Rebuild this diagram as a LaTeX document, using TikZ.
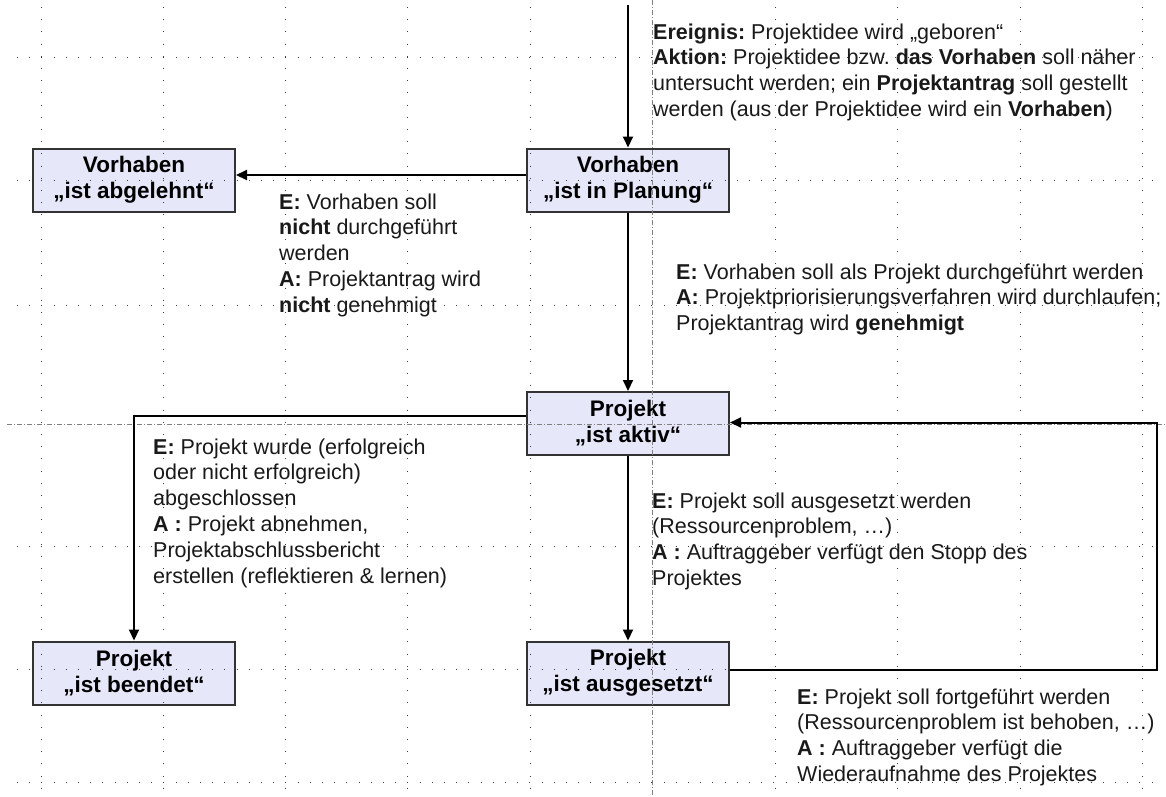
\documentclass[tikz,border=0pt]{standalone}
\usepackage{fontspec}
\setmainfont{Liberation Sans}
\usetikzlibrary{arrows.meta}
\definecolor{zustandfill}{RGB}{230,232,250}
\definecolor{zustandrand}{RGB}{51,51,51}
\definecolor{rasterfarbe}{RGB}{60,60,60}
\frenchspacing

\begin{document}
\begin{tikzpicture}[
x=1pt, y=-1pt,
every node/.style={font=\fontsize{21.5}{25.8}\selectfont},
zustand/.style={rectangle, draw=zustandrand, fill=zustandfill, line width=2pt, minimum width=202pt, minimum height=63pt, align=center, inner sep=0pt, font=\fontsize{22.5}{26}\selectfont\bfseries},
erklaerung/.style={anchor=base west, inner sep=0pt, align=left, text=black!90},
uebergang/.style={line width=2pt, -{Triangle[length=11pt, width=10pt]}},
raster/.style={rasterfarbe, line width=1pt, dash pattern=on 1pt off 11.2pt},
hilfslinie/.style={gray, line width=0.8pt, dash pattern=on 5pt off 2pt on 1pt off 2pt},
]
\useasboundingbox (0,0) rectangle (1166,796);

\node[zustand] (abgelehnt) at (134,180) {Vorhaben\\„ist abgelehnt“};
\node[zustand] (planung) at (628,180) {Vorhaben\\„ist in Planung“};
\node[zustand] (aktiv) at (628,423.5) {Projekt\\„ist aktiv“};
\node[zustand] (beendet) at (134,673) {Projekt\\„ist beendet“};
\node[zustand] (ausgesetzt) at (628,673) {Projekt\\„ist ausgesetzt“};

\node[erklaerung] (ereignis) at (653,116.4) {\textbf{Ereignis:} Projektidee wird „geboren“\\
	\textbf{Aktion:} Projektidee bzw. \textbf{das Vorhaben} soll näher\\
	untersucht werden; ein \textbf{Projektantrag} soll gestellt\\
	werden (aus der Projektidee wird ein \textbf{Vorhaben})};
\node[erklaerung] (ablehnen) at (279,312.2) {\textbf{E:} Vorhaben soll\\
	\textbf{nicht} durchgeführt\\
	werden\\
	\textbf{A:} Projektantrag wird\\
	\textbf{nicht} genehmigt};
\node[erklaerung] (genehmigen) at (676,330.6) {\textbf{E:} Vorhaben soll als Projekt durchgeführt werden\\
	\textbf{A:} Projektpriorisierungsverfahren wird durchlaufen;\\
	Projektantrag wird \textbf{genehmigt}};
\node[erklaerung] (abschliessen) at (153,583) {\textbf{E:} Projekt wurde (erfolgreich\\
	oder nicht erfolgreich)\\
	abgeschlossen\\
	\textbf{A :} Projekt abnehmen,\\
	Projektabschlussbericht\\
	erstellen (reflektieren \& lernen)};
\node[erklaerung] (aussetzen) at (652,585.4) {\textbf{E:} Projekt soll ausgesetzt werden\\
	(Ressourcenproblem, \ldots)\\
	\textbf{A :} Auftraggeber verfügt den Stopp des\\
	Projektes};
\node[erklaerung] (fortfuehren) at (797,781.4) {\textbf{E:} Projekt soll fortgeführt werden\\
	(Ressourcenproblem ist behoben, \ldots)\\
	\textbf{A :} Auftraggeber verfügt die\\
	Wiederaufnahme des Projektes};

\foreach \x in {41,163,285,407.5,530,775.5,897.5,1020,1142}
	\draw[raster] (\x,7) -- (\x,792);
\foreach \y in {57,180,305,546,669.5,782}
	\draw[raster] (17,\y) -- (1156,\y);
\draw[hilfslinie] (652.5,0) -- (652.5,796);
\draw[hilfslinie] (7,424) -- (1166,424);

\coordinate (eingang) at (628,5);
\coordinate (rechts) at (1157,546);
\draw[uebergang] (eingang) -- (planung.north);
\draw[uebergang] ([yshift=5pt]planung.west) -- ([yshift=5pt]abgelehnt.east);
\draw[uebergang] ([yshift=8pt]aktiv.west) -| (beendet.north);
\draw[uebergang] (planung.south) -- (aktiv.north);
\draw[uebergang] (aktiv.south) -- (ausgesetzt.north);
\draw[uebergang] ([yshift=3pt]ausgesetzt.east) -| (rechts) |- ([yshift=1pt]aktiv.east);
\end{tikzpicture}
\end{document}
